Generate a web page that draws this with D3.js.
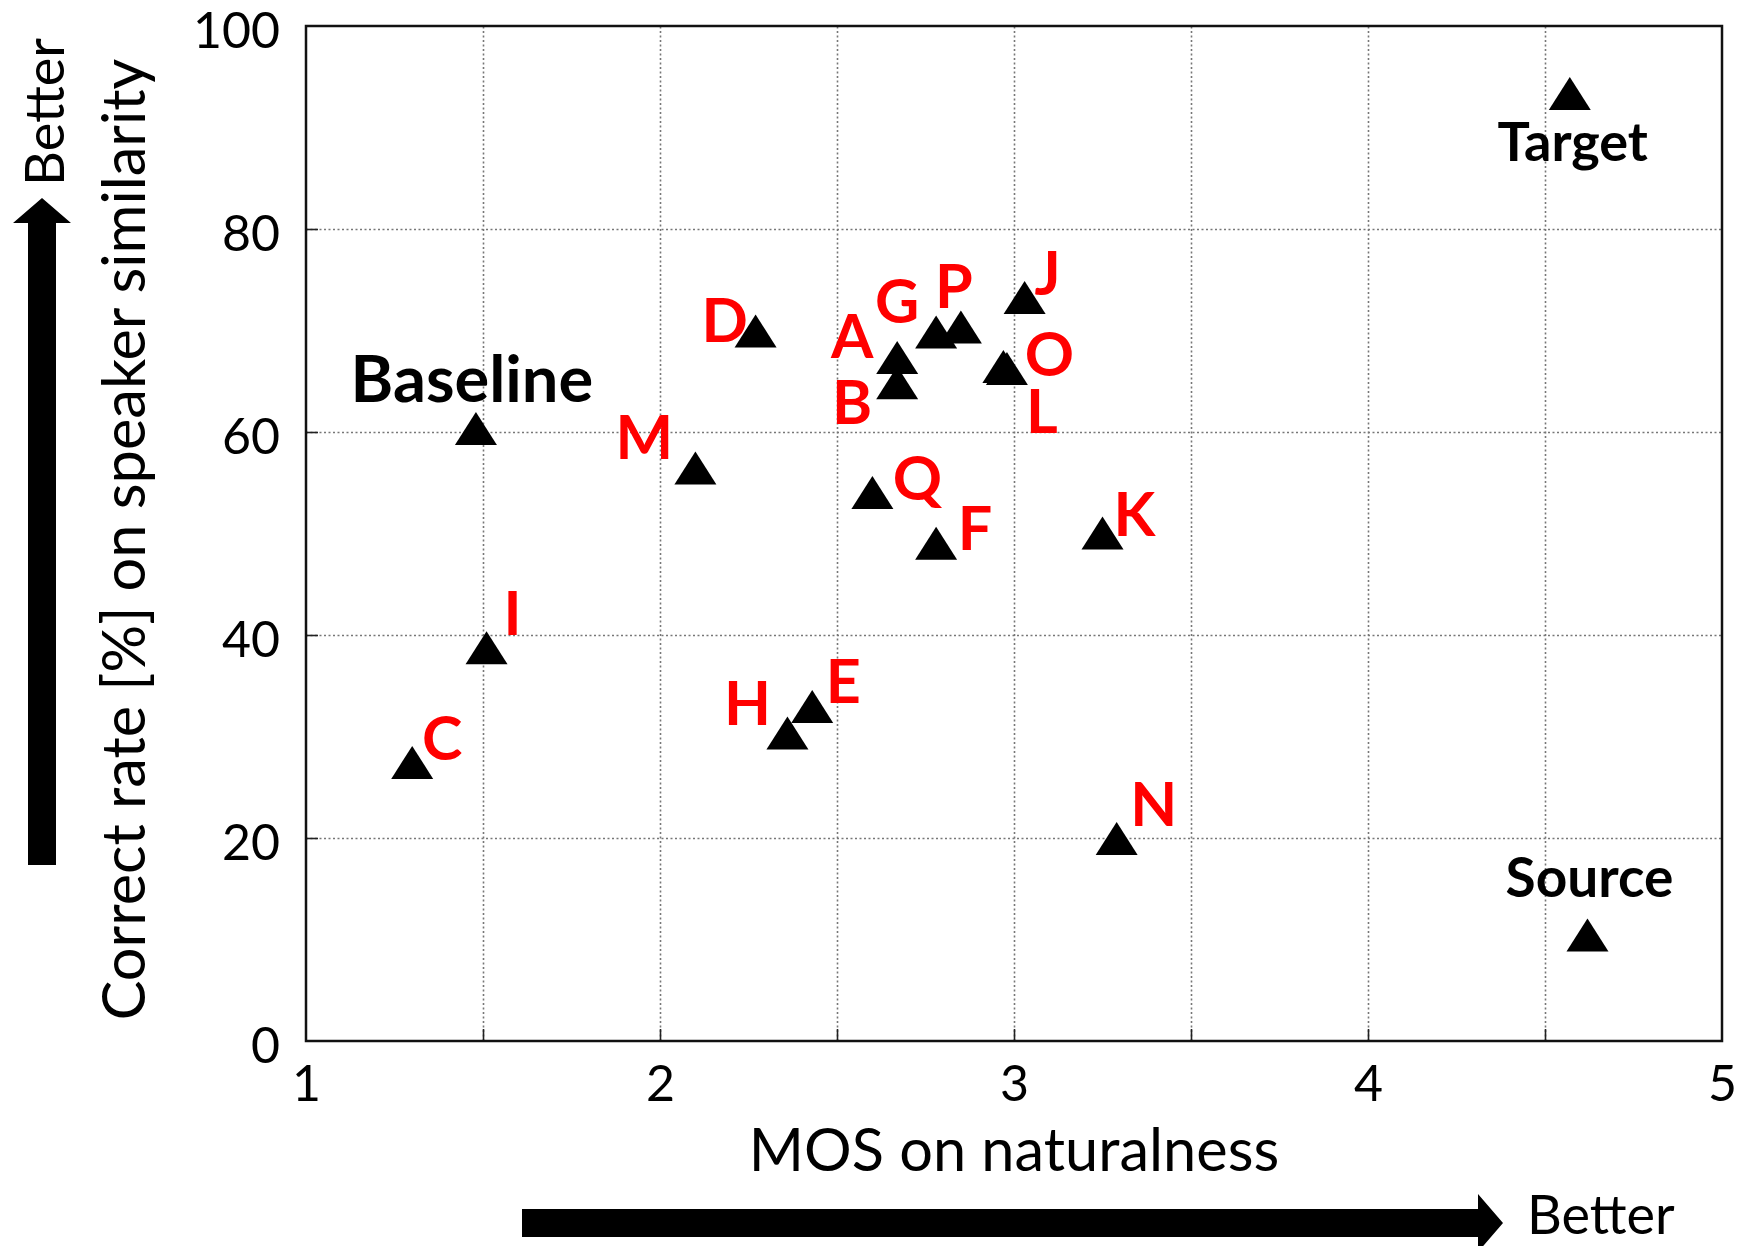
<!DOCTYPE html>
<html>
<head>
<meta charset="utf-8">
<script src="https://cdn.jsdelivr.net/npm/d3@7"></script>
<style>
  body { margin: 0; background: #fff; }
  svg { display: block; font-family: Lato, "Open Sans", sans-serif; }
</style>
</head>
<body>
<svg id="chart" width="1744" height="1246"></svg>
<script>
// systems and their scores
const names = ["Target", "Source", "Baseline", "A", "B", "C", "D", "E", "F", "G",
               "H", "I", "J", "K", "L", "M", "N", "O", "P", "Q"];
const mos = [4.57, 4.62, 1.48, 2.67, 2.67, 1.30, 2.27, 2.43, 2.78, 2.78,
             2.36, 1.51, 3.03, 3.25, 2.98, 2.10, 3.29, 2.97, 2.85, 2.60];
const similarity = [93.3, 10.4, 60.3, 67.3, 64.8, 27.4, 69.9, 32.9, 49.0, 69.8,
                    30.3, 38.7, 73.2, 50.0, 66.2, 56.4, 19.9, 66.4, 70.3, 54.0];
const referenceNames = ["Target", "Source", "Baseline"];

const xTicks = [1, 2, 3, 4, 5];
const yTicks = [0, 20, 40, 60, 80, 100];

const xTitle = "MOS on naturalness";
const yTitle = "Correct rate [%] on speaker similarity";

// where each label sits relative to its triangle (px)
const labelOffset = {
  Target: [3, 67], Source: [2, -38], Baseline: [-4, -27],
  A: [-45, 0], B: [-45, 41], C: [30, -3], D: [-31, 10], E: [31, -4],
  F: [39, 6], G: [-39, -10], H: [-40, -8], I: [26, -13], J: [23, -3],
  K: [32, 2], L: [35, 64], M: [-51, -10], N: [37, -13], O: [46, 9],
  P: [-7, -19], Q: [45, 7]
};
const labelSize = {Target: 54, Source: 55, Baseline: 65};

let data = names.map((n, i) => ({name: n, x: mos[i], y: similarity[i]}));

let svg = d3.select("#chart");
let margin = {left: 306, right: 22, top: 26, bottom: 205};
let width = 1744 - margin.left - margin.right;
let height = 1246 - margin.top - margin.bottom;

let g = svg.append("g").attr("transform", `translate(${margin.left},${margin.top})`);

let x = d3.scaleLinear().domain([1, 5]).range([0, width]);
let y = d3.scaleLinear().domain([0, 100]).range([height, 0]);

// dotted grid
g.append("g")
  .attr("class", "xgrid")
  .attr("transform", `translate(0,${height})`)
  .call(d3.axisBottom(x).tickValues(d3.range(1.5, 5, 0.5)).tickSize(-height).tickFormat(""))
  .call(a => a.select(".domain").remove())
  .selectAll("line")
    .attr("stroke", "#777")
    .attr("stroke-width", 1.6)
    .attr("stroke-dasharray", "2,2.5");

g.append("g")
  .attr("class", "ygrid")
  .call(d3.axisLeft(y).tickValues([20, 40, 60, 80]).tickSize(-width).tickFormat(""))
  .call(a => a.select(".domain").remove())
  .selectAll("line")
    .attr("stroke", "#777")
    .attr("stroke-width", 1.6)
    .attr("stroke-dasharray", "2,2.5");

// short inward ticks
g.append("g")
  .attr("transform", `translate(0,${height})`)
  .call(d3.axisBottom(x).tickValues(d3.range(1.5, 5, 0.5)).tickSizeInner(-12).tickSizeOuter(0).tickFormat(""))
  .call(a => a.select(".domain").remove())
  .selectAll("line").attr("stroke", "#222").attr("stroke-width", 1.6);
g.append("g")
  .call(d3.axisLeft(y).tickValues([20, 40, 60, 80]).tickSizeInner(-12).tickSizeOuter(0).tickFormat(""))
  .call(a => a.select(".domain").remove())
  .selectAll("line").attr("stroke", "#222").attr("stroke-width", 1.6);

// tick labels
let xAxis = g.append("g")
  .attr("transform", `translate(0,${height})`)
  .call(d3.axisBottom(x).tickValues(xTicks).tickSize(0).tickPadding(24).tickFormat(d3.format("d")));
xAxis.select(".domain").remove();
xAxis.selectAll("text").attr("font-size", 50).attr("font-family", "Lato").attr("fill", "#000");

let yAxis = g.append("g")
  .call(d3.axisLeft(y).tickValues(yTicks).tickSize(0).tickPadding(26).tickFormat(d3.format("d")));
yAxis.select(".domain").remove();
yAxis.selectAll("text").attr("font-size", 50).attr("font-family", "Lato").attr("fill", "#000").attr("dy", "0.42em");

// frame
g.append("rect")
  .attr("width", width)
  .attr("height", height)
  .attr("fill", "none")
  .attr("stroke", "#111")
  .attr("stroke-width", 2.5);

// triangles
let tri = "M0,-17L21,16L-21,16Z";
g.selectAll("path.pt")
  .data(data)
  .enter().append("path")
    .attr("class", "pt")
    .attr("d", tri)
    .attr("transform", d => `translate(${x(d.x)},${y(d.y)})`)
    .attr("fill", "#000");

// labels
g.selectAll("text.lbl")
  .data(data)
  .enter().append("text")
    .attr("class", "lbl")
    .attr("x", d => x(d.x) + labelOffset[d.name][0])
    .attr("y", d => y(d.y) + labelOffset[d.name][1])
    .attr("text-anchor", "middle")
    .attr("font-weight", "bold")
    .attr("font-size", d => labelSize[d.name] || 61)
    .attr("fill", d => referenceNames.includes(d.name) ? "#000" : "#ff0000")
    .text(d => d.name);

// axis titles
svg.append("text")
  .attr("x", margin.left + width / 2)
  .attr("y", 1171)
  .attr("text-anchor", "middle")
  .attr("font-size", 59.5)
  .text(xTitle);

svg.append("text")
  .attr("transform", `translate(145,${margin.top + height / 2 + 6}) rotate(-90)`)
  .attr("text-anchor", "middle")
  .attr("font-size", 59.5)
  .text(yTitle);

// "Better" arrows
let shaft = 28, headW = 58, headL = 25;
let ax0 = 522, ax1 = 1503, ay = 1223;
svg.append("path")
  .attr("d", `M${ax0},${ay - shaft / 2}H${ax1 - headL}V${ay - headW / 2}L${ax1},${ay}L${ax1 - headL},${ay + headW / 2}V${ay + shaft / 2}H${ax0}Z`)
  .attr("fill", "#000");
svg.append("text")
  .attr("x", 1527)
  .attr("y", 1234)
  .attr("font-size", 54)
  .text("Better");

let bx = 42, by0 = 865, by1 = 198;
svg.append("path")
  .attr("d", `M${bx - shaft / 2},${by0}V${by1 + headL}H${bx - headW / 2}L${bx},${by1}L${bx + headW / 2},${by1 + headL}H${bx + shaft / 2}V${by0}Z`)
  .attr("fill", "#000");
svg.append("text")
  .attr("transform", "translate(64,112) rotate(-90)")
  .attr("text-anchor", "middle")
  .attr("font-size", 54)
  .text("Better");
</script>
</body>
</html>
